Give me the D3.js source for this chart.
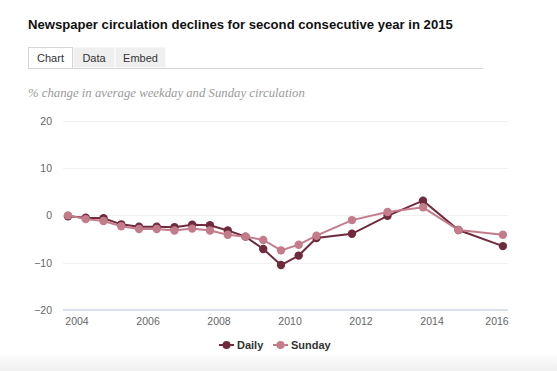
<!DOCTYPE html>
<html>
<head>
<meta charset="utf-8">
<script src="https://cdn.jsdelivr.net/npm/d3@7"></script>
<style>
  body { margin: 0; background: #fff; }
  svg { display: block; font-family: "Liberation Sans", Arial, Helvetica, sans-serif; }
</style>
</head>
<body>
<svg id="chart" width="557" height="371"></svg>
<script>
// semiannual through 2010, then annual
var dates = ['2003-09-30', '2004-03-31', '2004-09-30', '2005-03-31', '2005-09-30',
  '2006-03-31', '2006-09-30', '2007-03-31', '2007-09-30', '2008-03-31',
  '2008-09-30', '2009-03-31', '2009-09-30', '2010-03-31', '2010-09-30',
  '2011-09-30', '2012-09-30', '2013-09-30', '2014-09-30', '2015-12-31'];
var daily = [-0.2, -0.5, -0.6, -1.9, -2.4, -2.4, -2.5, -2.0, -2.1, -3.2,
  -4.5, -7.1, -10.5, -8.5, -4.8, -3.9, -0.1, 3.1, -3.1, -6.5];
var sunday = [0, -0.8, -1.2, -2.3, -2.9, -2.9, -3.2, -2.8, -3.2, -4.1,
  -4.5, -5.2, -7.4, -6.2, -4.3, -1.0, 0.7, 1.7, -3.1, -4.1];
var seriesNames = ['Daily', 'Sunday'];
var seriesColors = ['#6f2b3c', '#c47c8b'];
var yTicks = [-20, -10, 0, 10, 20];
var xTickYears = [2004, 2006, 2008, 2010, 2012, 2014, 2016];
var tabs = ['Chart', 'Data', 'Embed'];

var svg = d3.select('#chart'),
    parse = d3.timeParse('%Y-%m-%d'),
    plotLeft = 63,
    plotRight = 508;

var x = d3.scaleTime()
  .domain([new Date(2004, 0, 1), new Date(2016, 0, 1)])
  .range([77, 503]);
var y = d3.scaleLinear().domain([-20, 20]).range([310, 120.7]);

function fitText(sel, target) {
  var w = sel.node().getComputedTextLength(),
      fs = parseFloat(sel.attr('font-size'));
  sel.attr('font-size', (fs * target / w).toFixed(2));
}

// bottom shadow of the card
var grad = svg.append('defs').append('linearGradient')
  .attr('id', 'shade').attr('x1', 0).attr('x2', 0).attr('y1', 0).attr('y2', 1);
grad.append('stop').attr('offset', 0).attr('stop-color', '#fff');
grad.append('stop').attr('offset', 1).attr('stop-color', '#efefef');
svg.append('rect').attr('x', 0).attr('y', 352).attr('width', 557).attr('height', 19)
  .attr('fill', 'url(#shade)');

// title
var title = svg.append('text')
  .attr('x', 28).attr('y', 29)
  .attr('font-size', 14).attr('font-weight', 'bold').attr('fill', '#111')
  .text('Newspaper circulation declines for second consecutive year in 2015');
fitText(title, 425);

// tabs
svg.append('line').attr('x1', 28).attr('x2', 483).attr('y1', 68.5).attr('y2', 68.5)
  .attr('stroke', '#d6d6d6');
var tabX = [28, 73, 115, 166];
tabs.forEach(function (t, i) {
  svg.append('rect')
    .attr('x', tabX[i] + 0.5).attr('y', 47.5)
    .attr('width', tabX[i + 1] - tabX[i] - 1).attr('height', i === 0 ? 21 : 20)
    .attr('fill', i === 0 ? '#fff' : '#efefef')
    .attr('stroke', i === 0 ? '#d6d6d6' : 'none');
  svg.append('text')
    .attr('x', (tabX[i] + tabX[i + 1]) / 2).attr('y', 62)
    .attr('text-anchor', 'middle').attr('font-size', 11).attr('fill', '#333')
    .text(t);
});

// subtitle
var sub = svg.append('text')
  .attr('x', 28).attr('y', 97)
  .attr('font-family', '"Liberation Serif", "DejaVu Serif", serif')
  .attr('font-style', 'italic').attr('font-size', 14).attr('fill', '#9a9a9a')
  .text('% change in average weekday and Sunday circulation');
fitText(sub, 277);

// grid + y labels
svg.append('g').selectAll('line').data(yTicks.filter(function (d) { return d !== -20; }))
  .enter().append('line')
  .attr('x1', plotLeft).attr('x2', plotRight)
  .attr('y1', function (d) { return Math.round(y(d)) + 0.5; })
  .attr('y2', function (d) { return Math.round(y(d)) + 0.5; })
  .attr('stroke', '#f1f1f1');

svg.append('g').selectAll('text').data(yTicks).enter().append('text')
  .attr('x', 52).attr('y', function (d) { return y(d) + 4; })
  .attr('text-anchor', 'end').attr('font-size', 10.5).attr('fill', '#666')
  .text(function (d) { return d < 0 ? '\u2212' + Math.abs(d) : d; });

// x axis
svg.append('line').attr('x1', plotLeft).attr('x2', plotRight)
  .attr('y1', 310).attr('y2', 310).attr('stroke', '#d9e1ec').attr('stroke-width', 2);

svg.append('g').selectAll('text').data(xTickYears).enter().append('text')
  .attr('x', function (d) {
    var px = x(new Date(d, 0, 1));
    return Math.min(px, plotRight - 11);
  })
  .attr('y', 325).attr('text-anchor', 'middle').attr('font-size', 10.5).attr('fill', '#666')
  .text(function (d) { return d; });

// series
var allSeries = [daily, sunday].map(function (vals, i) {
  return {
    name: seriesNames[i],
    color: seriesColors[i],
    points: vals.map(function (v, j) { return { date: parse(dates[j]), value: v }; })
  };
});

var line = d3.line()
  .x(function (d) { return x(d.date); })
  .y(function (d) { return y(d.value); });

var groups = svg.append('g').selectAll('g.series').data(allSeries).enter()
  .append('g').attr('class', 'series');

groups.append('path')
  .attr('d', function (d) { return line(d.points); })
  .attr('fill', 'none')
  .attr('stroke', function (d) { return d.color; })
  .attr('stroke-width', 2);

groups.selectAll('circle').data(function (d) {
  return d.points.map(function (p) { return { p: p, color: d.color }; });
}).enter().append('circle')
  .attr('cx', function (d) { return x(d.p.date); })
  .attr('cy', function (d) { return y(d.p.value); })
  .attr('r', 4.2)
  .attr('fill', function (d) { return d.color; });

// legend
var legendX = [219, 273];
allSeries.forEach(function (s, i) {
  var g = svg.append('g').attr('transform', 'translate(' + legendX[i] + ',345)');
  g.append('line').attr('x1', 0).attr('x2', 15).attr('y1', 0).attr('y2', 0)
    .attr('stroke', s.color).attr('stroke-width', 2);
  g.append('circle').attr('cx', 7.5).attr('cy', 0).attr('r', 4).attr('fill', s.color);
  g.append('text').attr('x', 18).attr('y', 4)
    .attr('font-size', 11).attr('font-weight', 'bold').attr('fill', '#333')
    .text(s.name);
});
</script>
</body>
</html>
